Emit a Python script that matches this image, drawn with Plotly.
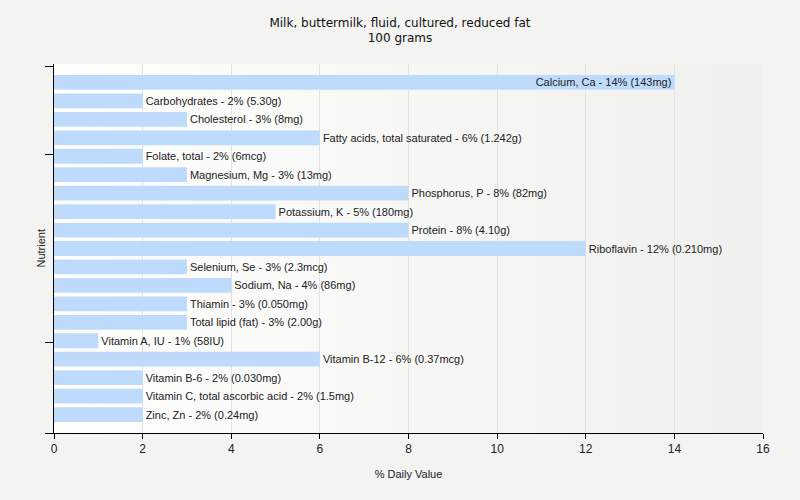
import plotly.graph_objects as go

# nutrient names, % daily value and amounts
nutrients = ['Calcium, Ca', 'Carbohydrates', 'Cholesterol', 'Fatty acids, total saturated',
             'Folate, total', 'Magnesium, Mg', 'Phosphorus, P', 'Potassium, K', 'Protein',
             'Riboflavin', 'Selenium, Se', 'Sodium, Na', 'Thiamin', 'Total lipid (fat)',
             'Vitamin A, IU', 'Vitamin B-12', 'Vitamin B-6', 'Vitamin C, total ascorbic acid',
             'Zinc, Zn']
daily_value = [14, 2, 3, 6, 2, 3, 8, 5, 8, 12, 3, 4, 3, 3, 1, 6, 2, 2, 2]
amounts = ['143mg', '5.30g', '8mg', '1.242g', '6mcg', '13mg', '82mg', '180mg', '4.10g',
           '0.210mg', '2.3mcg', '86mg', '0.050mg', '2.00g', '58IU', '0.37mcg', '0.030mg',
           '1.5mg', '0.24mg']
x_ticks = [0, 2, 4, 6, 8, 10, 12, 14, 16]

labels = [f'{n} - {v}% ({a})' for n, v, a in zip(nutrients, daily_value, amounts)]
positions = ['inside' if v == max(daily_value) else 'outside' for v in daily_value]

fig = go.Figure()
fig.add_trace(go.Bar(
    x=daily_value, y=list(range(len(nutrients))), orientation='h',
    text=labels, textposition=positions, insidetextanchor='end', constraintext='none',
    textfont=dict(family='Liberation Sans, Arial', size=11, color='#222222'),
    insidetextfont=dict(size=11, color='#222222'), outsidetextfont=dict(size=11, color='#222222'),
    marker=dict(color='#bfdbfc', line=dict(width=0)),
    width=0.8, cliponaxis=False, hoverinfo='text'))

# soft left-to-right gradient behind the plot area
steps = 40
for i in range(steps):
    g = int(255 - (255 - 240) * i / (steps - 1))
    fig.add_shape(type='rect', xref='x domain', yref='y domain',
                  x0=i / steps, x1=(i + 1) / steps, y0=0, y1=1,
                  fillcolor=f'rgb({g},{g},{g - 1})', line=dict(width=0), layer='below')

# y axis title as an annotation so it sits where the original has it
fig.add_annotation(text='Nutrient', textangle=-90, xref='paper', yref='paper',
                   x=-0.0197, y=0.5, xanchor='center', yanchor='middle', showarrow=False,
                   font=dict(family='Liberation Sans, Arial', size=11, color='#222222'))

fig.update_layout(
    width=800, height=500,
    paper_bgcolor='#f3f3f1', plot_bgcolor='#f3f3f1',
    margin=dict(l=54, r=37, t=64, b=67),
    title=dict(text='Milk, buttermilk, fluid, cultured, reduced fat<br>100 grams',
               x=0.5, xanchor='center', y=0.947, yanchor='top',
               font=dict(family='DejaVu Sans, Verdana', size=12, color='#111111')),
    font=dict(family='Liberation Sans, Arial', size=11, color='#222222'),
    showlegend=False, bargap=0.2,
    xaxis=dict(range=[0, 16], tickvals=x_ticks, showgrid=True, gridcolor='#e2e2e2',
               zeroline=False, showline=True, linecolor='#000000', linewidth=1,
               ticks='outside', ticklen=5, tickcolor='#000000', automargin=False,
               tickfont=dict(family='Liberation Sans, Arial', size=12, color='#222222'),
               title=dict(text='% Daily Value', standoff=14,
                          font=dict(family='Liberation Sans, Arial', size=11))),
    yaxis=dict(range=[19, -1], tickvals=[-0.84, 3.93, 14.1, 19], ticktext=['', '', '', ''],
               showgrid=False, zeroline=False, showline=True, linecolor='#000000', linewidth=1,
               ticks='outside', ticklen=8, tickcolor='#000000', automargin=False),
)

# drop the browser's default page margin so the figure sits at the window corner
fig.write_html('out.html', config={'displayModeBar': False},
               post_script="document.body.style.margin='0px';")
